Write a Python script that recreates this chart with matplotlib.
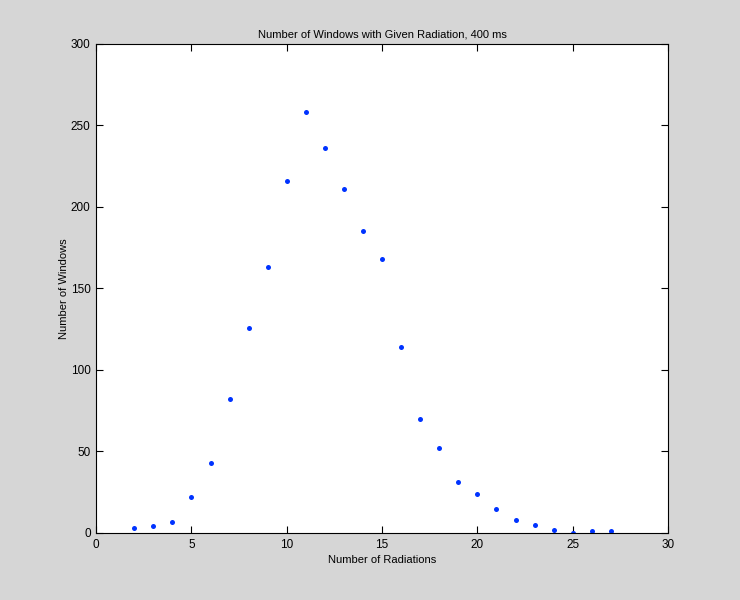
import matplotlib
matplotlib.use("Agg")
import matplotlib.pyplot as plt

radiations = [2, 3, 4, 5, 6, 7, 8, 9, 10, 11, 12, 13, 14, 15, 16, 17, 18, 19, 20, 21, 22, 23, 24, 25, 26, 27]
windows = [3, 4, 7, 22, 43, 82, 126, 163, 216, 258, 236, 211, 185, 168, 114, 70, 52, 31, 24, 15, 8, 5, 2, 0, 1, 1]
x_ticks = [0, 5, 10, 15, 20, 25, 30]
y_ticks = [0, 50, 100, 150, 200, 250, 300]

plt.rcParams['font.family'] = ['Liberation Sans', 'DejaVu Sans']
fig = plt.figure(figsize=(7.4, 6.0), dpi=100, facecolor='#d6d6d6')
ax = fig.add_axes([0.13, 0.1117, 0.7727, 0.815])
ax.set_facecolor('white')
ax.plot(radiations, windows, linestyle='none', marker='o', markersize=3.6,
        color='#0033ff', markeredgewidth=0)
ax.set_xlim(0, 30)
ax.set_ylim(0, 300)
ax.set_xticks(x_ticks)
ax.set_yticks(y_ticks)
ax.tick_params(direction='in', top=True, right=True, length=5, width=0.8,
               labelsize=8.5, pad=4, colors='black')
for s in ax.spines.values():
    s.set_linewidth(0.8)
ax.set_title('Number of Windows with Given Radiation, 400 ms', fontsize=8, pad=5)
ax.set_xlabel('Number of Radiations', fontsize=8, labelpad=3)
ax.set_ylabel('Number of Windows', fontsize=8, labelpad=1)
fig.savefig('out.png', dpi=100, facecolor=fig.get_facecolor())
